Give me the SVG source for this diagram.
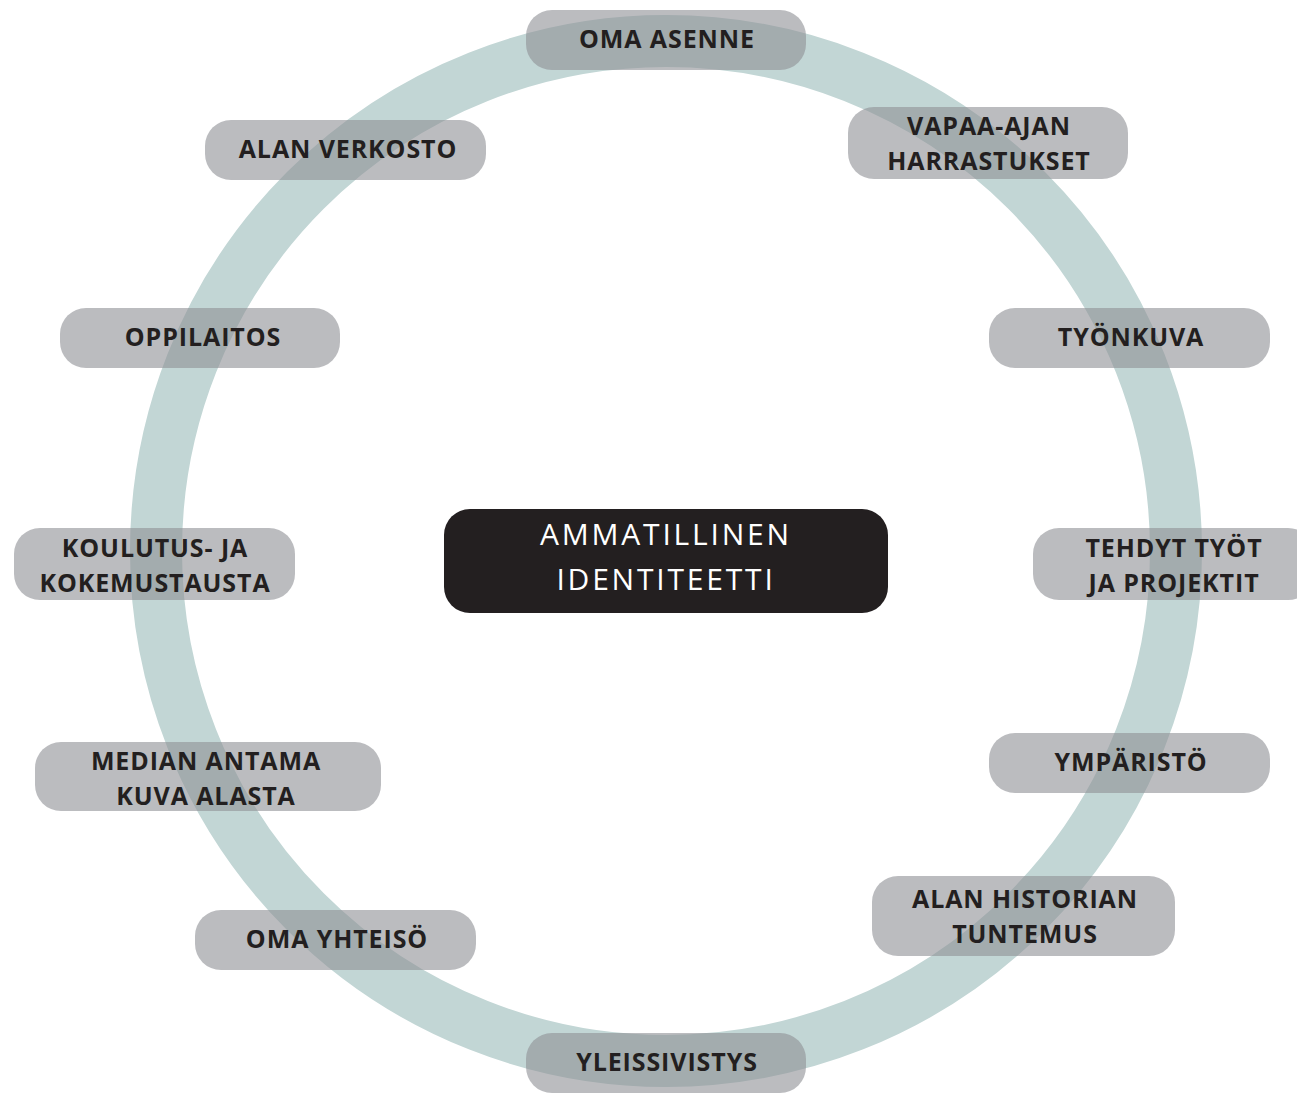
<svg xmlns="http://www.w3.org/2000/svg" width="1297" height="1093" viewBox="0 0 1297 1093">
<style>
.ring{fill:none;stroke:#c2d6d5;stroke-width:52}
.node rect{fill:#8e9094;fill-opacity:0.6}
.node text{font-family:"Open Sans","Liberation Sans",sans-serif;font-weight:700;font-size:25px;letter-spacing:0.9px;fill:#231f20;text-anchor:middle}
.center rect{fill:#231f20}
.center text{font-family:"Open Sans","Liberation Sans",sans-serif;font-weight:400;font-size:30px;letter-spacing:2.8px;fill:#ffffff;text-anchor:middle}
</style>
<rect width="1297" height="1093" fill="#ffffff"/>
<g id="ring"><circle class="ring" cx="666" cy="551" r="510"/></g>
<g id="connectors"></g>
<g id="n-center" class="center"><rect x="444" y="509" width="444" height="104" rx="26"/><text x="666" y="545">AMMATILLINEN</text><text x="666" y="590">IDENTITEETTI</text></g>
<g id="n-oma-asenne" class="node"><rect x="526" y="10" width="280" height="60" rx="26"/><text x="667" y="48">OMA ASENNE</text></g>
<g id="n-alan-verkosto" class="node"><rect x="205" y="120" width="281" height="60" rx="26"/><text x="348" y="158">ALAN VERKOSTO</text></g>
<g id="n-vapaa-ajan" class="node"><rect x="848" y="107" width="280" height="72" rx="26"/><text x="989" y="135">VAPAA-AJAN</text><text x="989" y="170">HARRASTUKSET</text></g>
<g id="n-oppilaitos" class="node"><rect x="60" y="308" width="280" height="60" rx="26"/><text x="203" y="346">OPPILAITOS</text></g>
<g id="n-tyonkuva" class="node"><rect x="989" y="308" width="281" height="60" rx="26"/><text x="1131" y="346">TYÖNKUVA</text></g>
<g id="n-koulutus" class="node"><rect x="14" y="528" width="281" height="72" rx="26"/><text x="155" y="557">KOULUTUS- JA</text><text x="155" y="592">KOKEMUSTAUSTA</text></g>
<g id="n-tehdyt" class="node"><rect x="1033" y="528" width="281" height="72" rx="26"/><text x="1174" y="557">TEHDYT TYÖT</text><text x="1174" y="592">JA PROJEKTIT</text></g>
<g id="n-median" class="node"><rect x="35" y="742" width="346" height="69" rx="26"/><text x="206" y="770">MEDIAN ANTAMA</text><text x="206" y="805">KUVA ALASTA</text></g>
<g id="n-ymparisto" class="node"><rect x="989" y="733" width="281" height="60" rx="26"/><text x="1131" y="771">YMPÄRISTÖ</text></g>
<g id="n-alan-historian" class="node"><rect x="872" y="876" width="303" height="80" rx="26"/><text x="1025" y="908">ALAN HISTORIAN</text><text x="1025" y="943">TUNTEMUS</text></g>
<g id="n-oma-yhteiso" class="node"><rect x="195" y="910" width="281" height="60" rx="26"/><text x="337" y="948">OMA YHTEISÖ</text></g>
<g id="n-yleissivistys" class="node"><rect x="526" y="1033" width="280" height="60" rx="26"/><text x="667" y="1071">YLEISSIVISTYS</text></g>
</svg>
